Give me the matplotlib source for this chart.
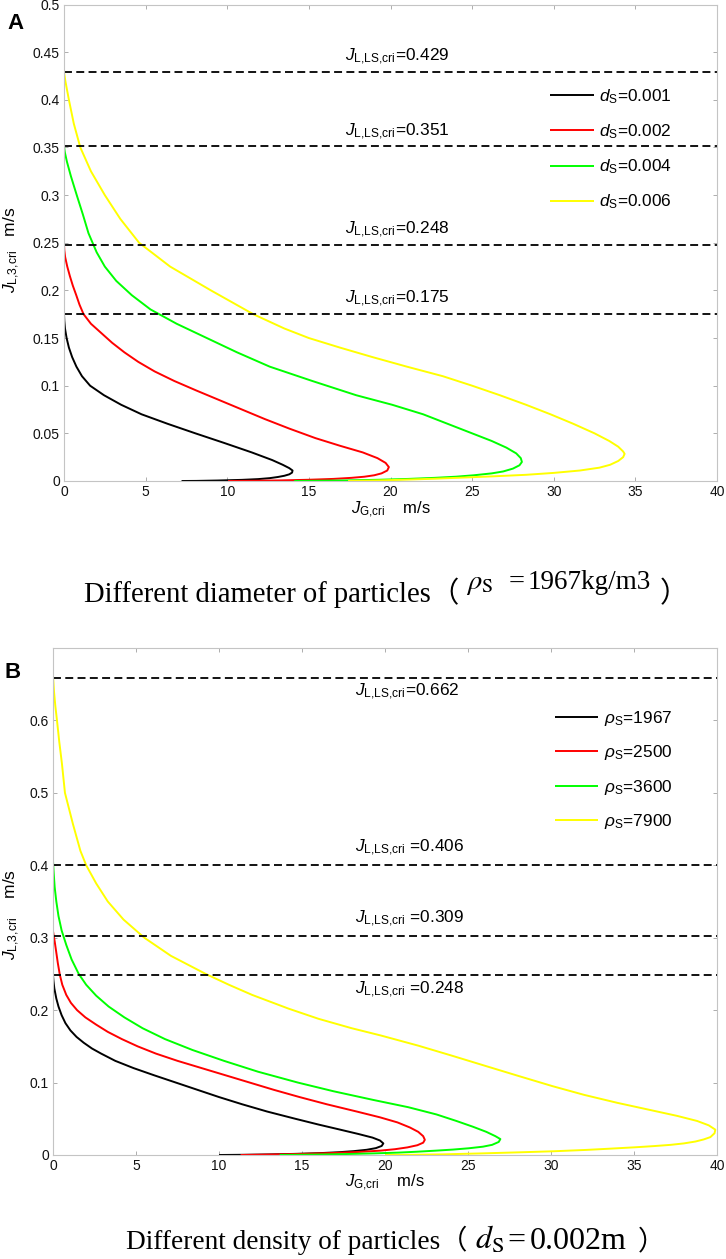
import matplotlib
matplotlib.use('Agg')
import matplotlib.pyplot as plt
from matplotlib.ticker import FormatStrFormatter, MultipleLocator

W, H = 726, 1259
plt.rcParams['font.family'] = ['Liberation Sans', 'DejaVu Sans']
plt.rcParams['mathtext.fontset'] = 'custom'
plt.rcParams['mathtext.rm'] = 'Liberation Sans'
plt.rcParams['mathtext.it'] = 'Liberation Sans:italic'
plt.rcParams['mathtext.bf'] = 'Liberation Sans:bold'

# ---------------- Panel A data (different particle diameter, rho_S = 1967) ----------------
a_labels = ['0.001', '0.002', '0.004', '0.006']
a_y1 = [0.175, 0.168, 0.160, 0.150, 0.140, 0.130, 0.120, 0.110, 0.100, 0.090, 0.080, 0.070,
        0.060, 0.050, 0.040, 0.030, 0.022, 0.017, 0.0135, 0.011, 0.0088, 0.0070, 0.0055,
        0.0042, 0.0030, 0.0020, 0.0012, 0.0005, 0.0001, 0.0]
a_x1 = [0.0, 0.02, 0.06, 0.16, 0.30, 0.50, 0.76, 1.10, 1.60, 2.45, 3.50, 4.75, 6.35, 8.05,
        9.8, 11.5, 12.75, 13.4, 13.8, 14.0, 13.97, 13.8, 13.5, 13.1, 12.6, 11.9, 10.9, 9.4,
        8.1, 7.2]
a_y2 = [0.248, 0.242, 0.235, 0.225, 0.215, 0.205, 0.195, 0.185, 0.175, 0.165, 0.155, 0.145,
        0.135, 0.125, 0.115, 0.105, 0.095, 0.085, 0.075, 0.065, 0.055, 0.045, 0.037, 0.030,
        0.024, 0.019, 0.0146, 0.011, 0.008, 0.006, 0.0045, 0.0033, 0.0022, 0.0013, 0.0006,
        0.0002, 0.0]
a_x2 = [0.0, 0.02, 0.07, 0.20, 0.36, 0.54, 0.75, 0.95, 1.2, 1.65, 2.3, 2.95, 3.7, 4.55, 5.55,
        6.75, 8.1, 9.5, 10.9, 12.3, 13.8, 15.4, 16.9, 18.3, 19.2, 19.7, 19.9, 19.8, 19.45,
        19.0, 18.4, 17.6, 16.5, 15.0, 13.2, 11.5, 10.05]
a_y3 = [0.351, 0.345, 0.335, 0.320, 0.300, 0.280, 0.260, 0.240, 0.225, 0.210, 0.195, 0.180,
        0.165, 0.150, 0.135, 0.120, 0.105, 0.090, 0.080, 0.070, 0.060, 0.050, 0.042, 0.035,
        0.029, 0.024, 0.020, 0.0165, 0.013, 0.010, 0.008, 0.006, 0.0045, 0.0033, 0.0022,
        0.0013, 0.0006, 0.0002, 0.0]
a_x3 = [0.0, 0.05, 0.18, 0.42, 0.78, 1.15, 1.5, 2.0, 2.5, 3.2, 4.15, 5.3, 6.9, 8.75, 10.6,
        12.6, 15.2, 17.9, 20.1, 22.0, 23.5, 25.0, 26.2, 27.1, 27.7, 27.98, 28.05, 27.9, 27.5,
        26.9, 26.2, 25.1, 24.0, 22.7, 21.1, 19.3, 17.2, 15.5, 14.1]
a_y4 = [0.429, 0.420, 0.400, 0.375, 0.350, 0.325, 0.300, 0.275, 0.250, 0.225, 0.200, 0.175,
        0.160, 0.150, 0.140, 0.130, 0.120, 0.110, 0.100, 0.090, 0.080, 0.070, 0.060, 0.050,
        0.042, 0.036, 0.031, 0.0285, 0.025, 0.021, 0.017, 0.014, 0.011, 0.0085, 0.0065,
        0.0049, 0.0035, 0.0024, 0.0014, 0.0007, 0.0002, 0.0]
a_x4 = [0.0, 0.08, 0.3, 0.6, 1.0, 1.65, 2.5, 3.45, 4.6, 6.5, 9.0, 11.6, 13.5, 15.0, 16.9, 18.9,
        21.0, 23.2, 25.0, 26.7, 28.3, 29.8, 31.2, 32.5, 33.4, 33.95, 34.25, 34.34, 34.25, 33.95,
        33.45, 32.8, 31.6, 30.0, 28.3, 26.3, 24.3, 22.7, 20.9, 19.5, 18.2, 17.4]
a_crit = [0.429, 0.351, 0.248, 0.175]
a_crit_txt = ['0.429', '0.351', '0.248', '0.175']

# ---------------- Panel B data (different particle density, d_S = 0.002) ----------------
b_labels = ['1967', '2500', '3600', '7900']
b_y1 = [0.248, 0.240, 0.230, 0.216, 0.205, 0.193, 0.182, 0.172, 0.163, 0.155, 0.147, 0.140,
        0.130, 0.120, 0.110, 0.100, 0.090, 0.080, 0.070, 0.060, 0.050, 0.042, 0.035, 0.029,
        0.024, 0.020, 0.016, 0.0125, 0.0095, 0.0072, 0.0053, 0.0038, 0.0025, 0.0015, 0.0008,
        0.0003, 0.0]
b_x1 = [0.0, 0.03, 0.08, 0.2, 0.33, 0.52, 0.75, 1.05, 1.42, 1.85, 2.35, 2.9, 3.75, 4.85, 6.1,
        7.4, 8.7, 10.0, 11.4, 12.9, 14.6, 16.0, 17.3, 18.4, 19.25, 19.7, 19.9, 19.8, 19.45,
        18.9, 18.1, 17.2, 16.0, 14.5, 13.0, 11.5, 10.0]
b_y2 = [0.309, 0.295, 0.281, 0.265, 0.249, 0.235, 0.221, 0.210, 0.200, 0.190, 0.180, 0.170,
        0.160, 0.150, 0.140, 0.130, 0.120, 0.110, 0.100, 0.090, 0.080, 0.070, 0.060, 0.052,
        0.045, 0.038, 0.032, 0.026, 0.021, 0.017, 0.0135, 0.0105, 0.008, 0.006, 0.0042,
        0.0028, 0.0016, 0.0008, 0.0003, 0.0]
b_x2 = [0.0, 0.1, 0.19, 0.29, 0.41, 0.56, 0.8, 1.08, 1.45, 1.95, 2.6, 3.3, 4.15, 5.1, 6.2, 7.5,
        8.95, 10.4, 11.85, 13.3, 14.85, 16.5, 18.3, 19.7, 20.75, 21.5, 22.0, 22.3, 22.4, 22.3,
        21.95, 21.35, 20.6, 19.7, 18.4, 16.9, 15.1, 13.5, 12.2, 11.3]
b_y3 = [0.406, 0.390, 0.370, 0.350, 0.330, 0.310, 0.290, 0.270, 0.250, 0.235, 0.220, 0.205,
        0.190, 0.175, 0.160, 0.145, 0.130, 0.115, 0.100, 0.088, 0.076, 0.066, 0.056, 0.047,
        0.039, 0.032, 0.026, 0.022, 0.018, 0.014, 0.0115, 0.0093, 0.0075, 0.006, 0.0045,
        0.0033, 0.0022, 0.0013, 0.0006, 0.0002, 0.0]
b_x3 = [0.0, 0.04, 0.1, 0.2, 0.33, 0.52, 0.8, 1.12, 1.55, 2.0, 2.6, 3.35, 4.3, 5.4, 6.75, 8.4,
        10.3, 12.35, 14.75, 16.9, 19.3, 21.4, 23.1, 24.3, 25.3, 26.1, 26.65, 26.95, 26.85,
        26.45, 25.9, 25.05, 24.1, 23.05, 21.9, 20.8, 19.3, 17.6, 15.8, 14.5, 13.65]
b_y4 = [0.662, 0.640, 0.620, 0.600, 0.570, 0.540, 0.500, 0.457, 0.420, 0.400, 0.375, 0.350,
        0.325, 0.300, 0.275, 0.250, 0.235, 0.221, 0.202, 0.188, 0.175, 0.165, 0.151, 0.137,
        0.123, 0.109, 0.095, 0.083, 0.072, 0.062, 0.054, 0.047, 0.041, 0.035, 0.030, 0.0247,
        0.0215, 0.0186, 0.016, 0.014, 0.0123, 0.0107, 0.0088, 0.007, 0.0052, 0.0037, 0.0022,
        0.0009, 0.0003, 0.0]
b_x4 = [0.0, 0.06, 0.14, 0.24, 0.38, 0.54, 0.72, 1.2, 1.65, 2.0, 2.6, 3.3, 4.25, 5.5, 7.1, 9.2,
        10.6, 12.0, 14.2, 16.0, 18.0, 19.75, 22.0, 24.05, 26.05, 28.06, 30.1, 32.0, 34.0, 36.0,
        37.6, 38.8, 39.5, 39.9, 39.85, 39.6, 39.2, 38.7, 38.0, 37.2, 36.2, 35.1, 33.6, 32.1,
        30.2, 28.1, 25.8, 23.5, 21.7, 20.0]
b_crit = [0.659, 0.401, 0.303, 0.248]
b_crit_txt = ['0.662', '0.406', '0.309', '0.248']

x_ticks = [0, 5, 10, 15, 20, 25, 30, 35, 40]
colors = ['black', '#ff0000', '#00ff00', '#ffff00']
spine_c = '#c4c4c4'

fig = plt.figure(figsize=(W / 100, H / 100), dpi=100)


def fpos(x, y):
    return x / W, 1 - y / H


def style_axes(ax):
    for s in ax.spines.values():
        s.set_color(spine_c)
        s.set_linewidth(0.8)
    ax.tick_params(direction='in', top=True, right=True, length=3, width=0.6,
                   color='#a0a0a0', labelsize=10, pad=3, labelcolor='#111111')
    ax.set_xlim(0, 40)
    ax.set_xticks(x_ticks)
    ax.yaxis.set_major_formatter(FormatStrFormatter('%g'))


crit_label = r'$J_{\mathrm{L{,}LS{,}cri}}$'

# ---------- Panel A ----------
axA = fig.add_axes([64 / W, 1 - 481 / H, (717 - 64) / W, (481 - 4.5) / H])
style_axes(axA)
axA.set_ylim(0, 0.5)
axA.yaxis.set_major_locator(MultipleLocator(0.05))
for xs, ys, c, lab in zip([a_x1, a_x2, a_x3, a_x4], [a_y1, a_y2, a_y3, a_y4], colors, a_labels):
    axA.plot(xs, ys, color=c, lw=1.4, label=r'$d_{\mathrm{S}}$=' + lab, solid_capstyle='butt')
for yv, t in zip(a_crit, a_crit_txt):
    axA.axhline(yv, color='black', lw=1.3, ls=(0, (4.4, 2.4)))
    axA.text(17.2, yv + 0.0115, crit_label + '=' + t, fontsize=12.4, ha='left', va='baseline')
axA.legend(loc='upper left', bbox_to_anchor=(0.745, 0.826), frameon=False, fontsize=12.4,
           handlelength=2.5, handletextpad=0.33, labelspacing=0.95, borderpad=0,
           borderaxespad=0)
axA.set_xlabel(r'$J_{\mathrm{G{,}cri}}$    m/s', fontsize=12)
axA.xaxis.set_label_coords(0.5, -0.04)
axA.set_ylabel(r'$J_{\mathrm{L{,}3{,}cri}}$   m/s', fontsize=12.5)
axA.yaxis.set_label_coords(-0.064, 0.485)

# ---------- Panel B ----------
axB = fig.add_axes([53 / W, 1 - 1155 / H, (717 - 53) / W, (1155 - 648) / H])
style_axes(axB)
axB.set_ylim(0, 0.70)
axB.set_yticks([0, 0.1, 0.2, 0.3, 0.4, 0.5, 0.6])
for xs, ys, c, lab in zip([b_x1, b_x2, b_x3, b_x4], [b_y1, b_y2, b_y3, b_y4], colors, b_labels):
    axB.plot(xs, ys, color=c, lw=1.4, label=r'$\rho_{\mathrm{S}}$=' + lab, solid_capstyle='butt')
b_offsets = [-0.025, 0.018, 0.018, -0.025]
b_space = ['', ' ', ' ', ' ']
for yv, t, off, sp in zip(b_crit, b_crit_txt, b_offsets, b_space):
    axB.axhline(yv, color='black', lw=1.3, ls=(0, (4.4, 2.4)))
    axB.text(18.2, yv + off, crit_label + sp + '=' + t, fontsize=12.4, ha='left', va='baseline')
axB.legend(loc='upper left', bbox_to_anchor=(0.756, 0.88), frameon=False, fontsize=12.4,
           handlelength=2.5, handletextpad=0.33, labelspacing=0.9, borderpad=0,
           borderaxespad=0)
axB.set_xlabel(r'$J_{\mathrm{G{,}cri}}$    m/s', fontsize=12)
axB.xaxis.set_label_coords(0.5, -0.0355)
axB.set_ylabel(r'$J_{\mathrm{L{,}3{,}cri}}$    m/s', fontsize=12.5)
axB.yaxis.set_label_coords(-0.047, 0.475)

# ---------- panel letters ----------
fig.text(*fpos(7, 29), 'A', fontsize=16, fontweight='bold', ha='left', va='baseline')
fig.text(*fpos(5, 678), 'B', fontsize=16, fontweight='bold', ha='left', va='baseline')

# ---------- captions ----------
serif = ['Liberation Serif', 'Noto Sans CJK SC']
fig.text(*fpos(84, 602), 'Different diameter of particles（', fontsize=20.6, family=serif,
         ha='left', va='baseline')
fig.text(*fpos(466, 589), r'$\rho_{\mathrm{S}}$', fontsize=20.5, math_fontfamily='stix',
         ha='left', va='baseline')
fig.text(*fpos(509, 589), '=', fontsize=20.5, family=serif, ha='left', va='baseline')
fig.text(*fpos(528, 589), '1967kg/m3', fontsize=19.5, family=serif, ha='left', va='baseline')
fig.text(*fpos(660, 602), '）', fontsize=20.6, family=serif, ha='left', va='baseline')

fig.text(*fpos(126, 1249), 'Different density of particles（', fontsize=19.6, family=serif,
         ha='left', va='baseline')
fig.text(*fpos(475, 1249), r'$d_{\mathrm{S}}$', fontsize=23, math_fontfamily='stix',
         ha='left', va='baseline')
fig.text(*fpos(507, 1249), '=', fontsize=23, family=serif, ha='left', va='baseline')
fig.text(*fpos(530, 1249), '0.002m', fontsize=23, family=serif, ha='left', va='baseline')
fig.text(*fpos(638, 1249), '）', fontsize=19.6, family=serif, ha='left', va='baseline')

fig.savefig('out.png', dpi=100)
